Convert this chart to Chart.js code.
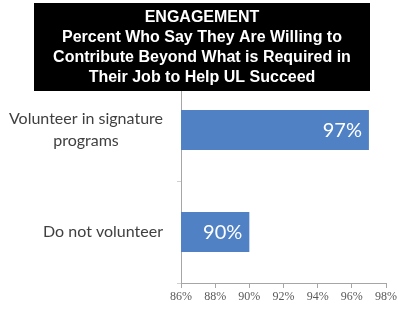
<!DOCTYPE html>
<html><head><meta charset="utf-8">
<script src="https://cdn.jsdelivr.net/npm/chart.js@4"></script>
<style>html,body{margin:0;padding:0;background:#fff}#c{display:block}</style>
</head><body>
<canvas id="c" width="399" height="311"></canvas>
<script>
const categories = [["Volunteer in signature","programs"],["Do not volunteer"]];
const values = [97, 90];
const valueLabels = ["97%","90%"];
const titleLines = ["ENGAGEMENT","Percent Who Say They Are Willing to","Contribute Beyond What is Required in","Their Job to Help UL Succeed"];
const xTicks = [86,88,90,92,94,96,98];

const overlay = {
  id:'overlay',
  afterDraw(chart){
    const ctx = chart.ctx, x = chart.scales.x, y = chart.scales.y;
    ctx.save();
    ctx.font = '20px Lato';
    ctx.fillStyle = '#ffffff';
    ctx.textAlign = 'right';
    ctx.textBaseline = 'middle';
    const meta = chart.getDatasetMeta(0);
    meta.data.forEach((bar,i)=>{
      ctx.fillText(valueLabels[i], bar.x - 7, bar.y + 1);
    });
    ctx.font = '16px Lato';
    ctx.fillStyle = '#404040';
    categories.forEach((lines,i)=>{
      const cy = y.getPixelForValue(i);
      const widths = lines.map(l=>ctx.measureText(l).width);
      const w = Math.max(...widths);
      const right = y.right - 18;
      const center = right - w/2;
      const lh = 22;
      ctx.textAlign = 'center';
      lines.forEach((l,j)=>{
        ctx.fillText(l, center, cy + (j - (lines.length-1)/2)*lh);
      });
    });
    ctx.fillStyle = '#000';
    ctx.fillRect(34,3,336,88);
    ctx.fillStyle = '#fff';
    ctx.font = 'bold 16px "Liberation Sans"';
    ctx.textAlign = 'center';
    titleLines.forEach((t,i)=>ctx.fillText(t, 202, 18 + i*20));
    ctx.restore();
  }
};

new Chart(document.getElementById('c'), {
  type:'bar',
  data:{labels:categories, datasets:[{data:values, backgroundColor:'#4f81c4', borderWidth:0, barPercentage:0.78, categoryPercentage:0.5}]},
  options:{
    indexAxis:'y', responsive:false, animation:false,
    layout:{padding:{left:0,right:11,top:79,bottom:0}},
    plugins:{legend:{display:false}, tooltip:{enabled:false}},
    scales:{
      x:{min:86,max:98,
        afterBuildTicks(s){ s.ticks = xTicks.map(v=>({value:v})); },
        grid:{drawOnChartArea:false, color:'#a6a6a6', tickLength:5, tickColor:'#a6a6a6'},
        border:{color:'#a6a6a6'},
        ticks:{font:{family:'"Liberation Serif"', size:12}, color:'#595959', padding:2, callback:v=>v+'%'},
        afterFit(s){ s.height = 28; }
      },
      y:{
        grid:{drawOnChartArea:false, offset:true, color:'#d0d0d0', tickLength:4},
        border:{color:'#a6a6a6'},
        ticks:{display:false},
        afterFit(s){ s.width = 181; }
      }
    }
  },
  plugins:[overlay]
});
</script>
</body></html>
